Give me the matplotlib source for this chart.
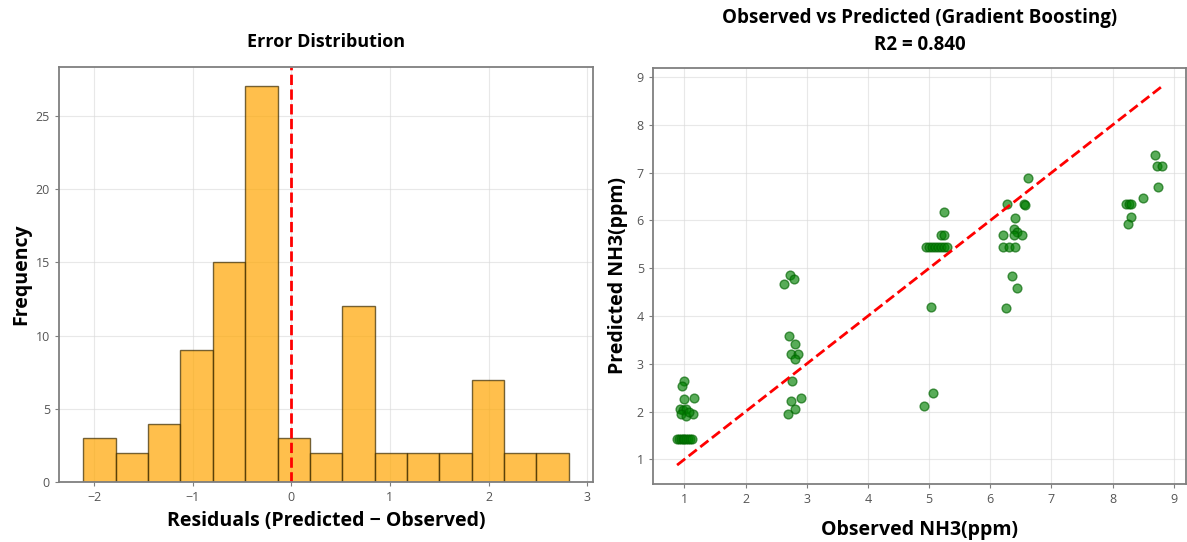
import numpy as np
import matplotlib
matplotlib.use('Agg')
import matplotlib.pyplot as plt

# histogram of residuals
bin_lo, bin_hi, n_bins = -2.11, 2.815, 15
counts = [3, 2, 4, 9, 15, 27, 3, 2, 12, 2, 2, 2, 7, 2, 2]

# observed vs predicted (NH3 ppm)
observed = [0.99, 0.96, 1.00, 1.15, 0.92, 0.97, 1.03, 0.95, 1.02, 1.14, 1.08,
            0.88, 0.91, 0.94, 0.97, 1.00, 1.03, 1.06, 1.09, 1.12,
            2.62, 2.72, 2.79, 2.71, 2.80, 2.74, 2.85, 2.81, 2.76, 2.74, 2.90, 2.81, 2.69,
            5.24, 5.20, 5.24, 4.95, 5.00, 5.05, 5.10, 5.15, 5.20, 5.25, 5.30,
            5.03, 4.92, 5.07,
            6.27, 6.55, 6.57, 6.62, 6.40, 6.39, 6.44, 6.21, 6.39, 6.52,
            6.20, 6.30, 6.40, 6.36, 6.44, 6.26,
            8.70, 8.72, 8.80, 8.74, 8.49, 8.22, 8.26, 8.30, 8.30, 8.25]
predicted = [2.64, 2.54, 2.27, 2.28, 2.05, 2.03, 2.06, 1.94, 1.91, 1.94, 2.00,
             1.43, 1.43, 1.43, 1.43, 1.43, 1.43, 1.43, 1.43, 1.43,
             4.66, 4.86, 4.77, 3.59, 3.41, 3.20, 3.20, 3.11, 2.64, 2.22, 2.28, 2.05, 1.94,
             6.18, 5.69, 5.69, 5.44, 5.44, 5.44, 5.44, 5.44, 5.44, 5.44, 5.44,
             4.18, 2.12, 2.38,
             6.35, 6.35, 6.33, 6.88, 6.06, 5.83, 5.76, 5.69, 5.69, 5.69,
             5.44, 5.44, 5.44, 4.83, 4.58, 4.16,
             7.36, 7.13, 7.15, 6.71, 6.48, 6.35, 6.35, 6.35, 6.08, 5.92]
r2 = 0.840

plt.rcParams['font.family'] = ['Open Sans', 'DejaVu Sans']

def _style(ax) :
    ax.grid(True, color='#d9d9d9', linewidth=0.8, alpha=0.6)
    ax.set_axisbelow(True)
    for sp in ax.spines.values() :
        sp.set_color('#7f7f7f')
        sp.set_linewidth(1.3)
    ax.tick_params(colors='#7f7f7f', labelcolor='#555555', labelsize=9, length=3)

fig = plt.figure(figsize=(11.87, 5.42), dpi=100)
ax1 = fig.add_axes([0.0497, 0.110, 0.450, 0.767])
ax2 = fig.add_axes([0.550, 0.107, 0.449, 0.768])

# error distribution
edges = np.linspace(bin_lo, bin_hi, n_bins + 1)
ax1.hist(edges[:-1], bins=edges, weights=counts, color='orange', edgecolor='#3a2a00',
         alpha=0.7, linewidth=1.0)
ax1.axvline(0, color='red', linestyle='--', linewidth=2)
ax1.set_title('Error Distribution', fontsize=13, fontweight='bold', pad=14)
ax1.set_xlabel('Residuals (Predicted \u2212 Observed)', fontsize=14, fontweight='bold', labelpad=5)
ax1.set_ylabel('Frequency', fontsize=14, fontweight='bold', labelpad=3)
ax1.set_yticks([0, 5, 10, 15, 20, 25])
_style(ax1)

# observed vs predicted
ax2.scatter(observed, predicted, s=40, color='green', edgecolors='darkgreen', alpha=0.65)
lo, hi = min(observed), max(observed)
ax2.plot([lo, hi], [lo, hi], 'r--', linewidth=2)
ax2.set_title('Observed vs Predicted (Gradient Boosting)\nR2 = %.3f' % r2,
              fontsize=13.5, fontweight='bold', pad=13, linespacing=1.45)
ax2.set_xlabel('Observed NH3(ppm)', fontsize=14, fontweight='bold', labelpad=10)
ax2.set_ylabel('Predicted NH3(ppm)', fontsize=14, fontweight='bold', labelpad=6)
ax2.set_xticks(range(1, 10))
ax2.set_yticks(range(1, 10))
_style(ax2)

fig.savefig('out.png', dpi=100)
